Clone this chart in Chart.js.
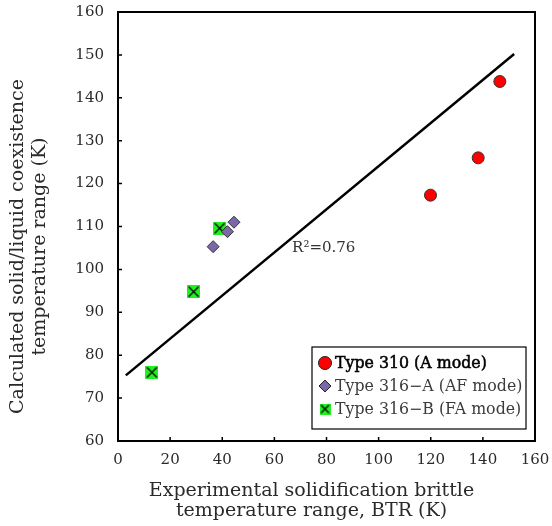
<!DOCTYPE html>
<html>
<head>
<meta charset="utf-8">
<script src="https://cdn.jsdelivr.net/npm/chart.js@4"></script>
<style>
  html, body { margin: 0; padding: 0; background: #fff; }
  #wrap { width: 552px; height: 526px; }
</style>
</head>
<body>
<div id="wrap"><canvas id="chart" width="552" height="526"></canvas></div>
<script>
// data
const type310 = [ {x: 146.5, y: 143.8}, {x: 138.2, y: 126.0}, {x: 119.9, y: 117.3} ];
const type316A = [ {x: 36.5, y: 105.3}, {x: 42.0, y: 108.8}, {x: 44.5, y: 111.0} ];
const type316B = [ {x: 39.0, y: 109.6}, {x: 29.0, y: 94.8}, {x: 13.0, y: 76.0} ];
const fitLine = [ {x: 3, y: 75.3}, {x: 152, y: 150.2} ];
const legendLabels = ['Type 310 (A mode)', 'Type 316\u2212A (AF mode)', 'Type 316\u2212B (FA mode)'];
const r2Label = 'R\u00b2=0.76';
const r2Pos = {x: 66.8, y: 105.0};

const FONT = '"DejaVu Serif", "Liberation Serif", serif';
const TXT = '#2a2a2a';

// green square with a black X
function crossBox(size) {
    const c = document.createElement('canvas');
    c.width = size; c.height = size;
    const g = c.getContext('2d');
    g.fillStyle = '#22ee22';
    g.fillRect(0, 0, size, size);
    g.strokeStyle = '#000';
    g.lineWidth = 1.2;
    g.beginPath();
    g.moveTo(1.5, 1.5); g.lineTo(size - 1.5, size - 1.5);
    g.moveTo(size - 1.5, 1.5); g.lineTo(1.5, size - 1.5);
    g.stroke();
    return c;
}
const boxImg = crossBox(13);
const boxSmall = crossBox(11);

// axis titles sit a little off-centre in the original
function shiftTitle(scale, dx, dy) {
    if (scale._shifted) return;
    const orig = scale.drawTitle;
    scale.drawTitle = function() {
        this.ctx.save();
        this.ctx.translate(dx, dy);
        orig.call(this);
        this.ctx.restore();
    };
    scale._shifted = true;
}
const titleShift = {
    id: 'titleShift',
    afterLayout(chart) {
        shiftTitle(chart.scales.x, -15, 0);
        shiftTitle(chart.scales.y, 0, 20);
    }
};

// frame, inner ticks, R2 label and the boxed legend
const decor = {
    id: 'decor',
    afterDraw(chart) {
        const ctx = chart.ctx;
        const a = chart.chartArea;
        const xs = chart.scales.x, ys = chart.scales.y;
        ctx.save();
        ctx.strokeStyle = '#000';
        ctx.lineWidth = 2;
        ctx.strokeRect(a.left, a.top, a.right - a.left, a.bottom - a.top);
        ctx.lineWidth = 1.5;
        ctx.beginPath();
        xs.ticks.forEach(t => {
            const px = xs.getPixelForValue(t.value);
            ctx.moveTo(px, a.bottom); ctx.lineTo(px, a.bottom - 4);
        });
        ys.ticks.forEach(t => {
            const py = ys.getPixelForValue(t.value);
            ctx.moveTo(a.left, py); ctx.lineTo(a.left + 4, py);
        });
        ctx.stroke();

        // R2
        ctx.fillStyle = '#333';
        ctx.font = '15px ' + FONT;
        ctx.textBaseline = 'middle';
        ctx.textAlign = 'left';
        ctx.fillText(r2Label, xs.getPixelForValue(r2Pos.x), ys.getPixelForValue(r2Pos.y));

        // legend
        const lw = 214, lh = 82;
        const lx = a.right - 9 - lw, ly = a.bottom - 12 - lh;
        ctx.fillStyle = '#fff';
        ctx.fillRect(lx, ly, lw, lh);
        ctx.strokeStyle = '#000';
        ctx.lineWidth = 1.2;
        ctx.strokeRect(lx, ly, lw, lh);
        const rows = [ly + 16, ly + 39, ly + 62];
        const mx = lx + 13;
        // circle
        ctx.beginPath();
        ctx.arc(mx, rows[0], 6.5, 0, Math.PI * 2);
        ctx.fillStyle = '#ff0000'; ctx.fill();
        ctx.strokeStyle = '#222'; ctx.lineWidth = 1; ctx.stroke();
        // diamond
        ctx.beginPath();
        ctx.moveTo(mx, rows[1] - 6); ctx.lineTo(mx + 6, rows[1]);
        ctx.lineTo(mx, rows[1] + 6); ctx.lineTo(mx - 6, rows[1]); ctx.closePath();
        ctx.fillStyle = '#7b68a8'; ctx.fill(); ctx.stroke();
        // box
        ctx.drawImage(boxSmall, mx - 5.5, rows[2] - 5.5);
        ctx.textBaseline = 'middle';
        ctx.font = '15.8px ' + FONT;
        ctx.fillStyle = '#000';
        ctx.strokeStyle = '#000';
        ctx.lineWidth = 0.5;
        ctx.fillText(legendLabels[0], lx + 23, rows[0] + 1);
        ctx.strokeText(legendLabels[0], lx + 23, rows[0] + 1);
        ctx.fillStyle = '#3a3a3a';
        ctx.fillText(legendLabels[1], lx + 23, rows[1] + 1);
        ctx.fillText(legendLabels[2], lx + 23, rows[2] + 1);
        ctx.restore();
    }
};

new Chart(document.getElementById('chart'), {
    type: 'scatter',
    data: {
        datasets: [
            {
                type: 'line',
                label: 'fit',
                data: fitLine,
                borderColor: '#000',
                borderWidth: 2.5,
                pointRadius: 0,
                fill: false
            },
            {
                label: legendLabels[0],
                data: type310,
                pointStyle: 'circle',
                pointRadius: 6,
                backgroundColor: '#ff0000',
                borderColor: '#333',
                borderWidth: 1
            },
            {
                label: legendLabels[1],
                data: type316A,
                pointStyle: 'rectRot',
                pointRadius: 6,
                backgroundColor: '#7b68a8',
                borderColor: '#333',
                borderWidth: 1
            },
            {
                label: legendLabels[2],
                data: type316B,
                pointStyle: boxImg,
                pointRadius: 7
            }
        ]
    },
    options: {
        responsive: false,
        animation: false,
        layout: { padding: { top: 12, right: 17, left: 0, bottom: 0 } },
        plugins: {
            legend: { display: false },
            tooltip: { enabled: false }
        },
        scales: {
            x: {
                type: 'linear',
                min: 0, max: 160,
                ticks: { stepSize: 20, padding: 10, color: TXT, font: { family: FONT, size: 15 } },
                grid: { display: false, drawTicks: false },
                border: { display: false },
                title: {
                    display: true,
                    text: ['Experimental solidification brittle', 'temperature range, BTR (K)'],
                    color: TXT,
                    font: { family: FONT, size: 19, lineHeight: 1.1 },
                    padding: { top: 0, bottom: 4 }
                },
                afterFit(s) { s.height = 85; s.paddingLeft = 0; s.paddingRight = 0; }
            },
            y: {
                type: 'linear',
                min: 60, max: 160,
                ticks: { stepSize: 10, padding: 14, color: TXT, font: { family: FONT, size: 15 } },
                grid: { display: false, drawTicks: false },
                border: { display: false },
                title: {
                    display: true,
                    text: ['Calculated solid/liquid coexistence', 'temperature range (K)'],
                    color: TXT,
                    font: { family: FONT, size: 19, lineHeight: 1.15 },
                    padding: { top: 7, bottom: 0 }
                },
                afterFit(s) { s.width = 118; s.paddingTop = 0; s.paddingBottom = 0; }
            }
        }
    },
    plugins: [titleShift, decor]
});
</script>
</body>
</html>
